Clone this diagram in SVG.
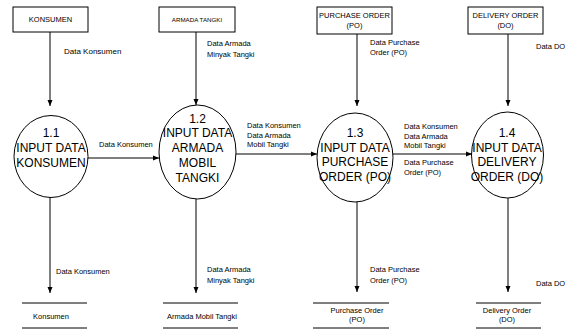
<svg xmlns="http://www.w3.org/2000/svg" width="572" height="331" viewBox="0 0 572 331">
<defs>
<marker id="ah" markerWidth="6" markerHeight="6" refX="6" refY="3" orient="auto" markerUnits="userSpaceOnUse">
<path d="M0,0.5 L6,3 L0,5.5 Z" fill="#000"/>
</marker>
<style>
.box{fill:#fff;stroke:#000;stroke-width:1}
.proc{fill:#fff;stroke:#000;stroke-width:1}
.line{stroke:#000;stroke-width:1;fill:none}
.ptxt{font-family:"Liberation Sans",Arial,sans-serif;font-size:12px;fill:#000;text-anchor:middle}
.btxt{font-family:"Liberation Sans",Arial,sans-serif;font-size:7.5px;fill:#000;text-anchor:middle}
.lbl{font-family:"Liberation Sans",Arial,sans-serif;font-size:7.5px;fill:#000}
.stxt{font-family:"Liberation Sans",Arial,sans-serif;font-size:7.5px;fill:#000;text-anchor:middle}
</style>
</defs>
<rect width="572" height="331" fill="#fff"/>

<g id="ext-konsumen">
<rect class="box" x="13" y="7" width="75" height="25"/>
<text class="btxt" x="50.5" y="22">KONSUMEN</text>
</g>
<g id="ext-armada">
<rect class="box" x="159" y="7" width="76" height="25"/>
<text class="btxt" x="197" y="22" style="font-size:6.2px">ARMADA TANGKI</text>
</g>
<g id="ext-po">
<rect class="box" x="317" y="7" width="75" height="27"/>
<text class="btxt" x="354.5" y="18">PURCHASE ORDER</text>
<text class="btxt" x="354.5" y="28">(PO)</text>
</g>
<g id="ext-do">
<rect class="box" x="468" y="7" width="75" height="27"/>
<text class="btxt" x="505.5" y="18">DELIVERY ORDER</text>
<text class="btxt" x="505.5" y="28">(DO)</text>
</g>

<g id="p11">
<ellipse class="proc" cx="51" cy="156.5" rx="37" ry="41"/>
<text class="ptxt" x="51" y="137">1.1</text>
<text class="ptxt" x="51" y="152">INPUT DATA</text>
<text class="ptxt" x="51" y="167">KONSUMEN</text>
</g>
<g id="p12">
<ellipse class="proc" cx="197.5" cy="152" rx="38.5" ry="47"/>
<text class="ptxt" x="197.5" y="123">1.2</text>
<text class="ptxt" x="197.5" y="137">INPUT DATA</text>
<text class="ptxt" x="197.5" y="152">ARMADA</text>
<text class="ptxt" x="197.5" y="167">MOBIL</text>
<text class="ptxt" x="197.5" y="182">TANGKI</text>
</g>
<g id="p13">
<ellipse class="proc" cx="355" cy="157.5" rx="38" ry="44.5"/>
<text class="ptxt" x="355" y="137">1.3</text>
<text class="ptxt" x="355" y="152">INPUT DATA</text>
<text class="ptxt" x="355" y="166">PURCHASE</text>
<text class="ptxt" x="355" y="181">ORDER (PO)</text>
</g>
<g id="p14">
<ellipse class="proc" cx="507.5" cy="155" rx="36" ry="43"/>
<text class="ptxt" x="507" y="137">1.4</text>
<text class="ptxt" x="507" y="152">INPUT DATA</text>
<text class="ptxt" x="507" y="166">DELIVERY</text>
<text class="ptxt" x="507" y="181">ORDER (DO)</text>
</g>

<g id="store-konsumen">
<line class="line" x1="22" y1="303" x2="87" y2="303"/>
<line class="line" x1="22" y1="328" x2="87" y2="328"/>
<text class="stxt" x="51" y="319">Konsumen</text>
</g>
<g id="store-armada">
<line class="line" x1="163" y1="303" x2="238" y2="303"/>
<line class="line" x1="163" y1="328" x2="238" y2="328"/>
<text class="stxt" x="202" y="319">Armada Mobil Tangki</text>
</g>
<g id="store-po">
<line class="line" x1="313" y1="303" x2="389" y2="303"/>
<line class="line" x1="313" y1="328" x2="389" y2="328"/>
<text class="stxt" x="357" y="313">Purchase Order</text>
<text class="stxt" x="357" y="322">(PO)</text>
</g>
<g id="store-do">
<line class="line" x1="476" y1="303" x2="541" y2="303"/>
<line class="line" x1="476" y1="328" x2="541" y2="328"/>
<text class="stxt" x="507" y="313">Delivery Order</text>
<text class="stxt" x="507" y="322">(DO)</text>
</g>

<g id="connectors">
<line class="line" x1="50" y1="32" x2="50" y2="106" marker-end="url(#ah)"/>
<line class="line" x1="196" y1="32" x2="196" y2="105" marker-end="url(#ah)"/>
<line class="line" x1="357" y1="34" x2="357" y2="106" marker-end="url(#ah)"/>
<line class="line" x1="508" y1="34" x2="508" y2="106" marker-end="url(#ah)"/>

<line class="line" x1="88" y1="158" x2="159" y2="158" marker-end="url(#ah)"/>
<line class="line" x1="236" y1="154" x2="317" y2="154" marker-end="url(#ah)"/>
<line class="line" x1="393" y1="154" x2="472" y2="154" marker-end="url(#ah)"/>

<line class="line" x1="50" y1="197" x2="50" y2="293" marker-end="url(#ah)"/>
<line class="line" x1="196" y1="199" x2="196" y2="293" marker-end="url(#ah)"/>
<line class="line" x1="357" y1="202" x2="357" y2="292" marker-end="url(#ah)"/>
<line class="line" x1="508" y1="198" x2="508" y2="292" marker-end="url(#ah)"/>

<text class="lbl" x="64" y="54" style="font-size:8px">Data Konsumen</text>
<text class="lbl" x="207" y="46">Data Armada</text>
<text class="lbl" x="207" y="57">Minyak Tangki</text>
<text class="lbl" x="370" y="45">Data Purchase</text>
<text class="lbl" x="370" y="55">Order (PO)</text>
<text class="lbl" x="536" y="49">Data DO</text>

<text class="lbl" x="99" y="147">Data Konsumen</text>
<text class="lbl" x="247" y="128">Data Konsumen</text>
<text class="lbl" x="247" y="138">Data Armada</text>
<text class="lbl" x="247" y="147">Mobil Tangki</text>
<text class="lbl" x="404" y="129">Data Konsumen</text>
<text class="lbl" x="404" y="139">Data Armada</text>
<text class="lbl" x="404" y="148">Mobil Tangki</text>
<text class="lbl" x="404" y="165">Data Purchase</text>
<text class="lbl" x="404" y="175">Order (PO)</text>

<text class="lbl" x="56" y="274">Data Konsumen</text>
<text class="lbl" x="207" y="272">Data Armada</text>
<text class="lbl" x="207" y="283">Minyak Tangki</text>
<text class="lbl" x="370" y="272">Data Purchase</text>
<text class="lbl" x="370" y="283">Order (PO)</text>
<text class="lbl" x="536" y="286">Data DO</text>
</g>
</svg>
